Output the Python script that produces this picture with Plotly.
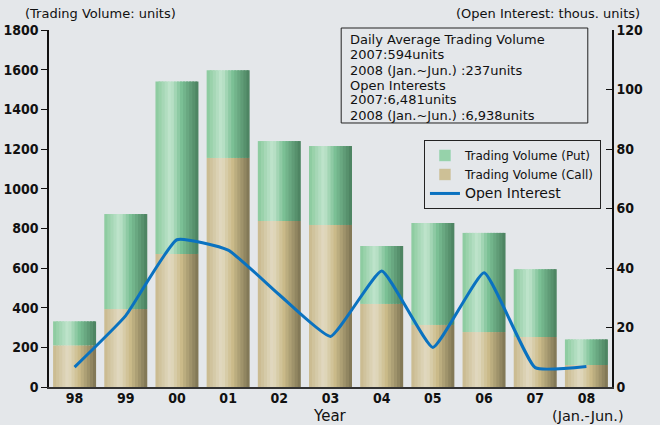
import plotly.graph_objects as go

years = ["98", "99", "00", "01", "02", "03", "04", "05", "06", "07", "08"]
call_vol = [210, 393, 671, 1155, 837, 817, 419, 313, 277, 252, 111]
total_vol = [331, 872, 1540, 1597, 1240, 1215, 711, 827, 777, 594, 240]
put_vol = [t - c for t, c in zip(total_vol, call_vol)]
open_interest = [6.7, 24.0, 49.5, 46.0, 31.0, 17.0, 39.0, 13.3, 38.4, 6.5, 6.9]

box_lines = [
    "Daily Average Trading Volume",
    "2007:594units",
    "2008 (Jan.~Jun.) :237units",
    "Open Interests",
    "2007:6,481units",
    "2008 (Jan.~Jun.) :6,938units",
]

BG = "#e4e7ea"
TXT_FONT = "DejaVu Sans, sans-serif"
NUM_FONT = "Liberation Sans Narrow, DejaVu Sans Condensed, Liberation Sans, sans-serif"

green_stops = [(0.0, (136, 201, 156)), (0.35, (194, 229, 206)), (0.6, (124, 193, 150)), (1.0, (74, 127, 94))]
tan_stops = [(0.0, (200, 185, 140)), (0.35, (226, 218, 194)), (0.6, (203, 187, 138)), (1.0, (124, 115, 82))]


def interp(stops, t):
    for (t0, c0), (t1, c1) in zip(stops[:-1], stops[1:]):
        if t0 <= t <= t1:
            f = (t - t0) / (t1 - t0) if t1 > t0 else 0
            c = [round(a + (b - a) * f) for a, b in zip(c0, c1)]
            return "rgb(%d,%d,%d)" % tuple(c)
    return "rgb(%d,%d,%d)" % stops[-1][1]


fig = go.Figure()
N = 14
bw = 0.84
sw = bw / N
for i in range(N):
    t = (i + 0.5) / N
    off = -bw / 2 + i * sw
    w = sw * 1.6 if i < N - 1 else sw
    fig.add_trace(go.Bar(
        x=years, y=call_vol, base=[0] * len(years), offset=off, width=w,
        marker=dict(color=interp(tan_stops, t), line=dict(width=0)),
        name="Trading Volume (Call)", legendgroup="call", showlegend=False,
        hoverinfo="skip"))
    fig.add_trace(go.Bar(
        x=years, y=put_vol, base=call_vol, offset=off, width=w,
        marker=dict(color=interp(green_stops, t), line=dict(width=0)),
        name="Trading Volume (Put)", legendgroup="put", showlegend=False,
        hoverinfo="skip"))

# legend entries
fig.add_trace(go.Bar(x=[None], y=[None], name="Trading Volume (Put)",
                     marker=dict(color="rgb(150,210,170)"), legendrank=1))
fig.add_trace(go.Bar(x=[None], y=[None], name="Trading Volume (Call)",
                     marker=dict(color="rgb(205,192,150)"), legendrank=2))

fig.add_trace(go.Scatter(
    x=years, y=open_interest, yaxis="y2", mode="lines",
    name="<span style='font-size:14px'>Open Interest</span>",
    line=dict(color="#0a72c0", width=3, shape="spline", smoothing=0.4),
    legendrank=3))

tickf = dict(family=NUM_FONT, size=14, color="#111", weight="bold")

fig.update_layout(
    width=660, height=425,
    margin=dict(l=49, r=48, t=30, b=38, autoexpand=False),
    paper_bgcolor=BG, plot_bgcolor=BG,
    barmode="overlay", bargap=0.16,
    showlegend=True,
    legend=dict(x=0.666, y=0.692, xanchor="left", yanchor="top",
                bgcolor=BG, bordercolor="#222", borderwidth=1,
                font=dict(family=TXT_FONT, size=12, color="#111"),
                tracegroupgap=0, itemwidth=30),
    xaxis=dict(type="category", categoryorder="array", categoryarray=years,
               range=[-0.5, 10.5], showline=True, linecolor="#333", linewidth=2,
               ticks="", showgrid=False, zeroline=False, automargin=False,
               ticklabelstandoff=-3, tickfont=tickf),
    yaxis=dict(range=[0, 1800], dtick=200, showline=True, linecolor="#111",
               linewidth=1.5, ticks="outside", ticklen=6, tickcolor="#111",
               showgrid=False, zeroline=False, automargin=False,
               tickfont=tickf),
    yaxis2=dict(range=[0, 120], dtick=20, overlaying="y", side="right",
                showline=True, linecolor="#111", linewidth=1.5,
                ticks="inside", ticklen=6, tickcolor="#111",
                showgrid=False, zeroline=False, automargin=False,
                tickfont=tickf),
    font=dict(family=TXT_FONT, color="#111"),
)

# info box
fig.add_shape(type="rect", xref="paper", yref="paper",
              x0=0.519, x1=0.957, y0=0.7395, y1=1.0056,
              line=dict(color="#222", width=1), fillcolor=BG, layer="above")
line_y = [39, 55, 70, 85, 100, 115]
for txt, py in zip(box_lines, line_y):
    fig.add_annotation(text=txt, xref="paper", yref="paper",
                       x=0.531, y=(387 - py) / 357, xanchor="left", yanchor="middle",
                       showarrow=False,
                       font=dict(family=TXT_FONT, size=13, color="#111"))

fig.add_annotation(text="(Trading Volume: units)", xref="paper", yref="paper",
                   x=-0.046, y=1.045, xanchor="left", yanchor="middle",
                   showarrow=False, font=dict(family=TXT_FONT, size=13, color="#111"))
fig.add_annotation(text="(Open Interest: thous. units)", xref="paper", yref="paper",
                   x=1.053, y=1.045, xanchor="right", yanchor="middle",
                   showarrow=False, font=dict(family=TXT_FONT, size=13, color="#111"))
fig.add_annotation(text="Year", xref="paper", yref="paper",
                   x=0.499, y=-0.081, xanchor="center", yanchor="middle",
                   showarrow=False, font=dict(family=TXT_FONT, size=15, color="#111"))
fig.add_annotation(text="(Jan.-Jun.)", xref="paper", yref="paper",
                   x=1.025, y=-0.081, xanchor="right", yanchor="middle",
                   showarrow=False, font=dict(family=TXT_FONT, size=14.5, color="#111"))

fig.write_html("out.html", config={"displayModeBar": False},
               post_script="document.body.style.margin='0';document.body.style.padding='0';")
